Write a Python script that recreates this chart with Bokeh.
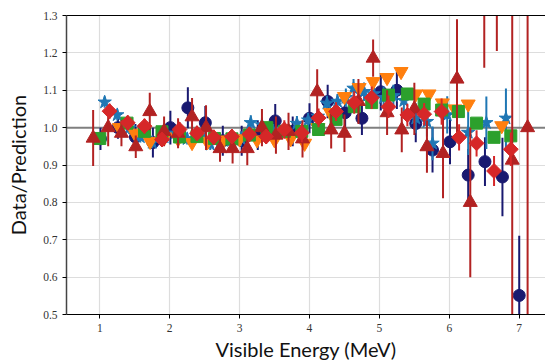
import numpy as np
from bokeh.plotting import figure
from bokeh.models import Range1d, FixedTicker, PrintfTickFormatter, Span, LinearAxis
from bokeh.embed import file_html
from bokeh.resources import INLINE

# ---- data ----
navy_x = [1.01, 1.26, 1.51, 1.76, 2.01, 2.26, 2.51, 2.76, 3.03, 3.26, 3.51, 3.76, 4.00, 4.26, 4.51, 4.75, 5.02, 5.25, 5.52, 5.76, 6.01, 6.27, 6.51, 6.76, 7.00]
navy_y = [0.97, 1.00, 0.975, 0.96, 1.00, 1.053, 1.013, 0.965, 0.965, 0.98, 1.018, 0.99, 1.025, 1.07, 1.04, 1.025, 1.096, 1.10, 1.011, 0.94, 0.962, 0.873, 0.909, 0.868, 0.551]
navy_e = [0.03, 0.03, 0.035, 0.04, 0.045, 0.055, 0.045, 0.04, 0.04, 0.04, 0.045, 0.04, 0.04, 0.045, 0.045, 0.045, 0.05, 0.05, 0.05, 0.06, 0.06, 0.07, 0.065, 0.105, 0.16]

star_x = [1.07, 1.25, 1.42, 1.58, 1.75, 1.92, 2.08, 2.25, 2.42, 2.58, 2.72, 2.88, 3.02, 3.16, 3.32, 3.48, 3.64, 3.82, 3.98, 4.12, 4.25, 4.40, 4.52, 4.63, 4.78, 4.92, 5.06, 5.20, 5.35, 5.52, 5.68, 5.76, 5.97, 6.27, 6.53, 6.81]
star_y = [1.068, 1.034, 0.998, 0.975, 0.96, 0.975, 0.985, 0.97, 0.975, 0.955, 0.96, 0.965, 0.97, 1.013, 1.007, 0.99, 0.995, 1.011, 1.02, 1.03, 1.065, 1.07, 1.08, 1.105, 1.096, 1.09, 1.08, 1.085, 1.072, 1.025, 1.016, 0.958, 1.034, 0.987, 1.013, 1.025]
star_e = [0.015, 0.015, 0.015, 0.015, 0.015, 0.015, 0.015, 0.015, 0.015, 0.015, 0.015, 0.015, 0.02, 0.02, 0.02, 0.02, 0.02, 0.02, 0.02, 0.02, 0.02, 0.02, 0.025, 0.025, 0.025, 0.025, 0.03, 0.03, 0.03, 0.04, 0.04, 0.045, 0.05, 0.06, 0.07, 0.08]

tri_dn_x = [1.28, 1.50, 1.72, 1.93, 2.12, 2.32, 2.54, 2.77, 3.00, 3.25, 3.50, 3.73, 3.93, 4.12, 4.30, 4.50, 4.71, 4.91, 5.11, 5.31, 5.52, 5.71, 5.90, 6.08, 6.27, 6.75]
tri_dn_y = [1.00, 0.985, 0.963, 0.975, 0.97, 0.96, 0.962, 0.967, 0.97, 0.967, 0.967, 0.97, 0.958, 1.00, 1.04, 1.083, 1.107, 1.123, 1.134, 1.15, 1.09, 1.09, 1.066, 1.05, 1.063, 1.005]

sq_x = [1.00, 1.39, 1.64, 1.89, 2.14, 2.39, 2.64, 2.89, 3.14, 3.39, 3.64, 3.89, 4.13, 4.38, 4.64, 4.89, 5.13, 5.40, 5.64, 5.89, 6.13, 6.39, 6.64, 6.88]
sq_y = [0.971, 1.012, 0.99, 0.989, 0.975, 0.976, 0.971, 0.97, 0.98, 1.00, 0.99, 0.99, 0.995, 1.022, 1.056, 1.067, 1.087, 1.09, 1.063, 1.047, 1.043, 1.012, 0.974, 0.978]

tri_up_x = [0.905, 1.12, 1.31, 1.515, 1.715, 1.92, 2.12, 2.32, 2.52, 2.72, 2.90, 3.11, 3.32, 3.52, 3.70, 3.90, 4.11, 4.31, 4.50, 4.70, 4.91, 5.11, 5.32, 5.50, 5.68, 5.91, 6.11, 6.30, 6.50, 6.68, 6.90, 7.12]
tri_up_y = [0.972, 1.00, 0.985, 0.949, 1.043, 0.99, 0.985, 1.029, 1.00, 0.944, 0.944, 0.944, 1.00, 0.98, 0.99, 0.97, 1.096, 0.994, 0.985, 1.07, 1.186, 1.04, 0.994, 1.05, 0.949, 0.931, 1.13, 0.80, 1.45, 1.45, 0.913, 1.00]
tri_up_e = [0.075, 0.05, 0.035, 0.03, 0.05, 0.04, 0.04, 0.05, 0.06, 0.035, 0.04, 0.045, 0.05, 0.05, 0.05, 0.05, 0.06, 0.05, 0.05, 0.06, 0.05, 0.06, 0.06, 0.07, 0.07, 0.12, 0.16, 0.20, 0.29, 0.245, 0.50, 0.60]

dia_x = [1.14, 1.40, 1.64, 1.89, 2.14, 2.39, 2.63, 2.89, 3.14, 3.38, 3.64, 3.89, 4.13, 4.38, 4.64, 4.89, 5.13, 5.40, 5.64, 5.89, 6.14, 6.39, 6.64, 6.88]
dia_y = [1.044, 1.013, 1.004, 0.968, 0.995, 0.985, 0.974, 0.976, 0.982, 0.976, 0.995, 0.986, 1.026, 1.043, 1.067, 1.08, 1.056, 1.034, 1.036, 1.043, 0.974, 0.958, 0.884, 0.942]
dia_e = [0.02, 0.02, 0.02, 0.02, 0.02, 0.02, 0.02, 0.02, 0.02, 0.02, 0.025, 0.025, 0.025, 0.025, 0.03, 0.03, 0.03, 0.03, 0.03, 0.035, 0.035, 0.035, 0.04, 0.045]

x_ticks = [1, 2, 3, 4, 5, 6, 7]
y_ticks = [0.5, 0.6, 0.7, 0.8, 0.9, 1.0, 1.1, 1.2, 1.3]

NAVY = "#191970"
BLUE = "#1f77b4"
ORANGE = "#ff7f0e"
GREEN = "#2ca02c"
RED = "#d62728"
BRICK = "#b22222"

p = figure(width=545, height=363, output_backend="svg", toolbar_location=None,
           x_range=Range1d(0.524, 7.376), y_range=Range1d(0.5, 1.3),
           min_border_left=66, min_border_right=0, min_border_top=15, min_border_bottom=49)
p.outline_line_color = None
p.background_fill_color = "white"
p.border_fill_color = "white"

p.xaxis.ticker = FixedTicker(ticks=x_ticks)
p.yaxis.ticker = FixedTicker(ticks=y_ticks)
p.yaxis.formatter = PrintfTickFormatter(format="%.1f")
p.xaxis.formatter = PrintfTickFormatter(format="%d")
for ax in (p.xaxis, p.yaxis):
    ax.major_label_text_font = "Liberation Serif"
    ax.major_label_text_font_size = "11.5px"
    ax.major_label_text_color = "#333333"
    ax.axis_label_text_font = "Lato"
    ax.axis_label_text_font_size = "20px"
    ax.axis_label_text_font_style = "normal"
    ax.axis_label_text_color = "#111111"
    ax.minor_tick_line_color = None
    ax.major_tick_out = 4
    ax.major_tick_in = 0
    ax.axis_line_color = "black"
    ax.axis_line_width = 1.2
p.yaxis.axis_line_color = "#444444"
p.yaxis.axis_line_width = 1.5
p.xaxis.axis_label = "Visible Energy (MeV)"
p.yaxis.axis_label = "Data/Prediction"
p.xaxis.major_label_standoff = 5
p.xaxis.axis_label_standoff = 2
p.yaxis.axis_label_standoff = 10

top = LinearAxis(ticker=FixedTicker(ticks=[]), major_tick_line_color=None, minor_tick_line_color=None,
                 major_label_text_font_size="0px", axis_line_color="black", axis_line_width=1.2)
p.add_layout(top, "above")

p.xgrid.grid_line_color = "#dddddd"
p.ygrid.grid_line_color = "#dddddd"
p.xgrid.grid_line_width = 1.2
p.ygrid.grid_line_width = 1.2

p.add_layout(Span(location=1.0, dimension="width", line_color="#7f7f7f", line_width=2, level="underlay"))

def errbars(x, y, e, color, w=2):
    y0 = [a - b for a, b in zip(y, e)]
    y1 = [a + b for a, b in zip(y, e)]
    p.segment(x0=x, y0=y0, x1=x, y1=y1, line_color=color, line_width=w)

errbars(navy_x, navy_y, navy_e, NAVY)
p.scatter(navy_x, navy_y, marker="circle", size=12, fill_color=NAVY, line_color=NAVY)

errbars(star_x, star_y, star_e, BLUE)
p.scatter(star_x, star_y, marker="star", size=14, fill_color=BLUE, line_color=BLUE)

p.scatter(tri_dn_x, tri_dn_y, marker="inverted_triangle", size=14, fill_color=ORANGE, line_color=ORANGE)

p.scatter(sq_x, sq_y, marker="square", size=12, fill_color=GREEN, line_color=GREEN)

errbars(tri_up_x, tri_up_y, tri_up_e, BRICK)
p.scatter(tri_up_x, tri_up_y, marker="triangle", size=14, fill_color=BRICK, line_color=BRICK)

errbars(dia_x, dia_y, dia_e, RED)
p.scatter(dia_x, dia_y, marker="square", angle=np.pi / 4, size=10.5, fill_color=RED, line_color=RED)

open("out.html", "w").write(file_html(p, INLINE))
